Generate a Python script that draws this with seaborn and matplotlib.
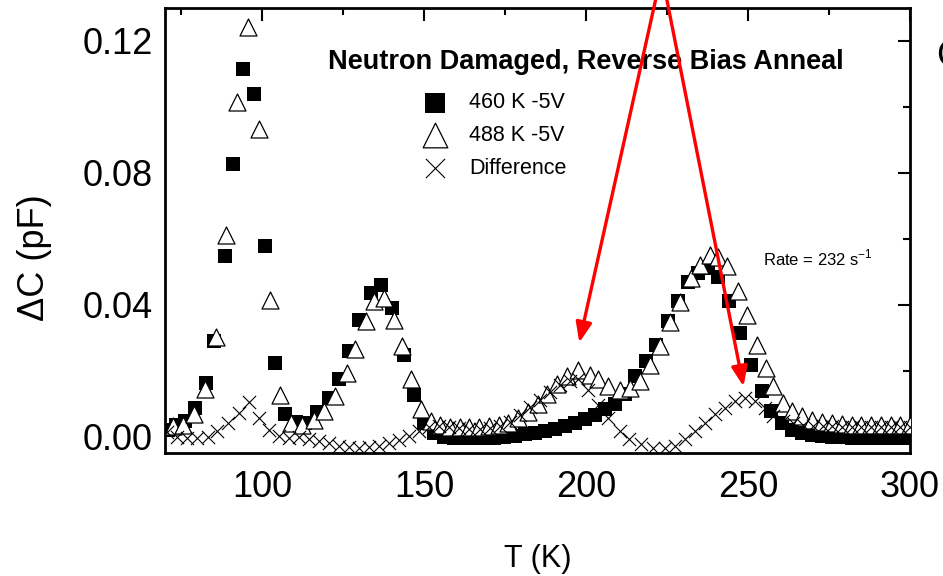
import matplotlib
matplotlib.use("Agg")
import matplotlib.pyplot as plt
from matplotlib.ticker import MultipleLocator
import seaborn as sns
import pandas as pd

# ---- data ----
t_460 = [70.8, 73.3, 76.2, 79.3, 82.6, 85.2, 88.6, 91.0, 94.2, 97.6, 101.0, 104.1, 107.2, 110.3,
         113.3, 117.0, 120.6, 123.7, 126.8, 129.8, 133.5, 136.6, 140.2, 143.8, 146.9, 150.0,
         153.1, 156.2, 159.3, 162.4, 165.5, 168.6, 171.7, 174.8, 177.9, 181.0, 184.1, 187.2,
         190.3, 193.4, 196.5, 199.6, 202.7, 205.8, 208.9, 212.0, 215.0, 218.6, 221.7, 225.3,
         228.4, 231.5, 234.6, 237.7, 240.8, 244.0, 247.5, 250.9, 254.2, 257.0, 260.4, 263.5,
         266.6, 269.7, 272.8, 275.9, 279.0, 282.0, 285.0, 288.0, 291.0, 294.0, 297.0, 300.0]
c_460 = [0.0020, 0.0035, 0.0046, 0.0088, 0.0163, 0.0289, 0.0549, 0.0826, 0.1114, 0.1039, 0.0577,
         0.0223, 0.0067, 0.0045, 0.0042, 0.0073, 0.0118, 0.0173, 0.0258, 0.0354, 0.0435, 0.0460,
         0.0390, 0.0248, 0.0127, 0.0042, 0.0010, 0.0000, -0.0004, -0.0006, -0.0006, -0.0005,
         -0.0003, 0.0000, 0.0003, 0.0007, 0.0012, 0.0017, 0.0023, 0.0031, 0.0040, 0.0052, 0.0066,
         0.0082, 0.0100, 0.0130, 0.0183, 0.0228, 0.0279, 0.0350, 0.0410, 0.0470, 0.0496, 0.0511,
         0.0485, 0.0410, 0.0314, 0.0218, 0.0137, 0.0077, 0.0042, 0.0021, 0.0010, 0.0004, 0.0001,
         -0.0001, -0.0002, -0.0003, -0.0003, -0.0004, -0.0004, -0.0004, -0.0005, -0.0005]

t_488 = [72.6, 75.5, 78.8, 82.2, 85.7, 88.9, 92.2, 95.5, 99.1, 102.3, 105.6, 108.9, 112.3, 115.9,
         119.0, 122.6, 126.2, 128.8, 131.9, 134.5, 137.6, 140.7, 143.3, 145.9, 149.0, 152.0,
         155.0, 158.0, 161.0, 164.0, 167.0, 170.0, 173.0, 176.0, 179.0, 182.0, 185.0, 188.0,
         191.0, 194.0, 197.5, 201.1, 203.7, 206.7, 210.4, 213.5, 216.6, 219.7, 222.9, 226.0,
         229.1, 232.5, 235.1, 238.2, 240.8, 243.4, 247.0, 249.6, 252.7, 255.5, 257.8, 260.9,
         263.5, 266.6, 269.7, 272.8, 275.9, 279.0, 282.0, 285.0, 288.0, 291.0, 294.0, 297.0, 300.0]
c_488 = [0.0031, 0.0036, 0.0067, 0.0145, 0.0302, 0.0610, 0.1016, 0.1241, 0.0933, 0.0413, 0.0125,
         0.0040, 0.0036, 0.0050, 0.0077, 0.0122, 0.0193, 0.0264, 0.0350, 0.0410, 0.0420, 0.0354,
         0.0274, 0.0173, 0.0082, 0.0046, 0.0035, 0.0030, 0.0030, 0.0030, 0.0030, 0.0032, 0.0035,
         0.0042, 0.0055, 0.0075, 0.0100, 0.0128, 0.0160, 0.0185, 0.0203, 0.0188, 0.0173, 0.0152,
         0.0142, 0.0147, 0.0168, 0.0218, 0.0274, 0.0347, 0.0408, 0.0480, 0.0520, 0.0551, 0.0546,
         0.0516, 0.0440, 0.0370, 0.0279, 0.0208, 0.0152, 0.0102, 0.0077, 0.0062, 0.0050, 0.0044,
         0.0040, 0.0037, 0.0036, 0.0035, 0.0035, 0.0035, 0.0035, 0.0035, 0.0035]

t_diff = [70.5, 73.6, 76.7, 80.0, 83.2, 86.2, 89.6, 92.7, 95.8, 98.9, 102.0, 105.1, 108.2, 111.3,
          114.4, 117.5, 120.6, 123.7, 126.8, 129.9, 133.0, 136.1, 139.2, 142.3, 145.4, 148.5,
          151.6, 154.7, 157.8, 160.9, 164.0, 167.1, 170.2, 173.3, 176.4, 179.5, 182.6, 185.7,
          188.8, 191.9, 195.0, 197.4, 200.5, 203.6, 206.7, 210.4, 213.4, 217.1, 220.7, 224.3,
          227.4, 230.5, 233.6, 236.7, 239.8, 242.9, 246.0, 249.0, 252.2, 255.2, 257.8, 260.9,
          264.0, 267.0, 270.0, 273.0, 276.0, 279.0, 282.0, 285.0, 288.0, 291.0, 294.0, 297.0, 300.0]
c_diff = [0.0015, 0.0000, -0.0005, -0.0005, 0.0000, 0.0016, 0.0042, 0.0072, 0.0105, 0.0057, 0.0020,
          0.0003, -0.0006, 0.0000, -0.0008, -0.0014, -0.0020, -0.0028, -0.0033, -0.0034, -0.0033,
          -0.0028, -0.0021, -0.0010, 0.0003, 0.0018, 0.0028, 0.0032, 0.0030, 0.0025, 0.0022, 0.0022,
          0.0025, 0.0032, 0.0045, 0.0065, 0.0090, 0.0112, 0.0135, 0.0155, 0.0168, 0.0173, 0.0142,
          0.0097, 0.0057, 0.0016, -0.0009, -0.0024, -0.0034, -0.0034, -0.0030, -0.0009, 0.0016,
          0.0042, 0.0067, 0.0087, 0.0107, 0.0117, 0.0107, 0.0087, 0.0062, 0.0048, 0.0040, 0.0035,
          0.0033, 0.0032, 0.0031, 0.0030, 0.0030, 0.0030, 0.0030, 0.0030, 0.0030, 0.0030, 0.0030]

labels = ["460 K -5V", "488 K -5V", "Difference"]
title_text = "Neutron Damaged, Reverse Bias Anneal"
rate_text = r"Rate = 232 s$^{\mathregular{-1}}$"
x_label = "T (K)"
y_label = "\u0394C (pF)"
x_ticks = [100, 150, 200, 250, 300]
y_ticks = [0.00, 0.04, 0.08, 0.12]

# ---- style ----
sns.set_theme(style="white")
plt.rcParams["font.family"] = ["Liberation Sans", "DejaVu Sans"]
plt.rcParams["mathtext.fontset"] = "custom"
plt.rcParams["mathtext.rm"] = "Liberation Sans"
plt.rcParams["text.color"] = "black"
plt.rcParams["axes.labelcolor"] = "black"
plt.rcParams["xtick.color"] = "black"
plt.rcParams["ytick.color"] = "black"

df460 = pd.DataFrame({"T": t_460, "C": c_460})
df488 = pd.DataFrame({"T": t_488, "C": c_488})
dfdif = pd.DataFrame({"T": t_diff, "C": c_diff})

fig = plt.figure(figsize=(9.43, 5.76), dpi=100)
ax = fig.add_axes([165 / 943, 1 - 453 / 576, 745 / 943, 445 / 576])

sns.scatterplot(data=df460, x="T", y="C", ax=ax, marker="s", s=100, color="black",
                edgecolor="black", linewidth=0, label=labels[0], zorder=3)
sns.scatterplot(data=df488, x="T", y="C", ax=ax, marker="^", s=150, facecolor="white",
                edgecolor="black", linewidth=0.9, label=labels[1], zorder=4)
sns.scatterplot(data=dfdif, x="T", y="C", ax=ax, marker="x", s=90, color="black",
                linewidth=0.8, label=labels[2], zorder=5)

ax.set_xlim(70, 300)
ax.set_ylim(-0.005, 0.13)
ax.set_xticks(x_ticks)
ax.set_yticks(y_ticks)
ax.set_yticklabels([f"{v:.2f}" for v in y_ticks])
ax.xaxis.set_minor_locator(MultipleLocator(25))
ax.yaxis.set_minor_locator(MultipleLocator(0.02))
ax.tick_params(which="both", direction="in", top=True, right=True, width=1.5,
               colors="black")
ax.tick_params(which="major", length=9, labelsize=26, pad=9)
ax.tick_params(axis="x", which="major", pad=12)
ax.tick_params(which="minor", length=5)
for sp in ax.spines.values():
    sp.set_linewidth(2)
    sp.set_color("black")

ax.set_xlabel(x_label, fontsize=22)
ax.set_ylabel(y_label, fontsize=26)
ax.xaxis.set_label_coords(0.5, -0.205)
ax.yaxis.set_label_coords(-0.152, 0.44)

ax.text(0.565, 0.879, title_text, transform=ax.transAxes, ha="center", va="center",
        fontsize=19.5, fontweight="bold", color="black")
ax.text(0.803, 0.438, rate_text, transform=ax.transAxes, ha="left", va="center",
        fontsize=12, color="black")

leg = ax.legend(loc="upper left", bbox_to_anchor=(0.33, 0.835), frameon=False,
                fontsize=15.5, markerscale=1.45, handletextpad=1.0, labelspacing=0.55,
                borderpad=0, handlelength=1.2)
for txt in leg.get_texts():
    txt.set_color("black")

arrow_kw = dict(arrowstyle="-|>,head_length=0.5,head_width=0.2", color="red", lw=2.4,
                mutation_scale=24, shrinkA=0, shrinkB=0)
ax.annotate("", xy=(197.9, 0.0285), xytext=(223.3, 0.1406), arrowprops=arrow_kw,
            annotation_clip=False, zorder=6)
ax.annotate("", xy=(248.6, 0.0152), xytext=(223.3, 0.1406), arrowprops=arrow_kw,
            annotation_clip=False, zorder=6)

fig.text(936 / 943, 1 - 57 / 576, "C", fontsize=26, ha="left", va="center")

fig.savefig("out.png", dpi=100)
